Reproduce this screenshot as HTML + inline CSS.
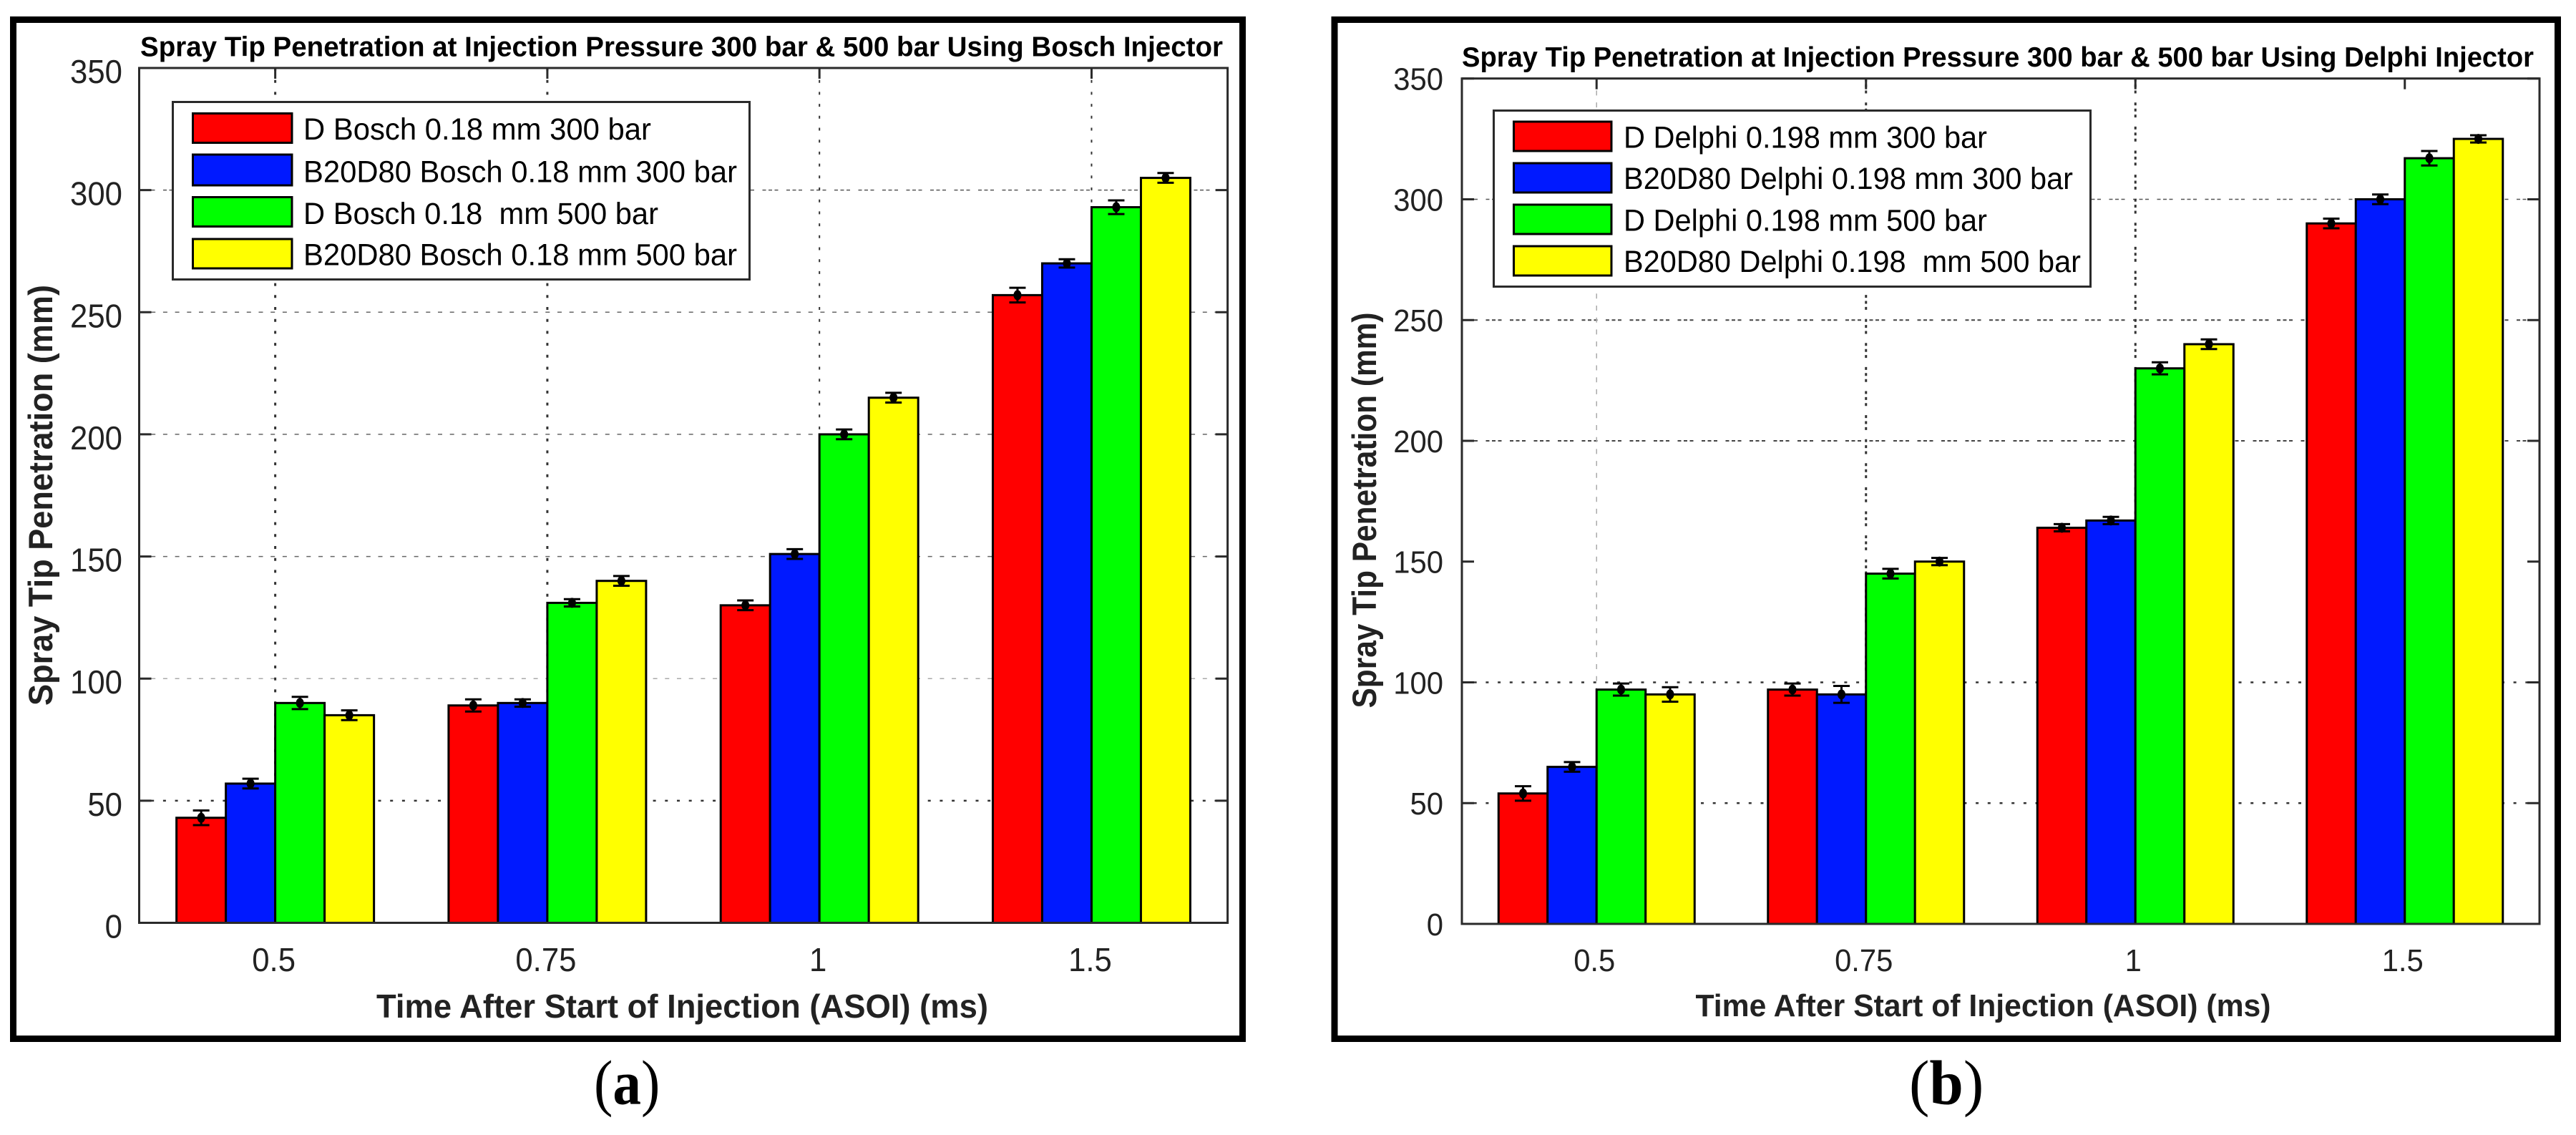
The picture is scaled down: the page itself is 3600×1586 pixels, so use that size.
<!DOCTYPE html>
<html lang="en">
<head>
<meta charset="utf-8">
<title>Spray Tip Penetration</title>
<style>
html,body{margin:0;padding:0;background:#fff;}
svg{display:block;font-family:"Liberation Sans",sans-serif;}
text{white-space:pre;}
.frame{fill:#fff;stroke:#000;stroke-width:9;}
.title{font-weight:bold;font-size:39px;fill:#000;}
.axis-title{font-weight:bold;fill:#222;}
.tick-label{fill:#222;}
.legend-box{fill:#fff;stroke:#2a2a2a;stroke-width:3;}
.legend-text{fill:#000;font-size:42.5px;}
.swatch,.bar{stroke:#000;stroke-width:3;}
.s0{fill:#ff0000;}.s1{fill:#0019ff;}.s2{fill:#00ff00;}.s3{fill:#ffff00;}
.axes-box{fill:none;stroke:#2a2a2a;stroke-width:3;}
.tick{stroke:#2a2a2a;stroke-width:3;}
.err{stroke:#000;stroke-width:3;fill:none;}
.gd{stroke:#333;stroke-width:2.5;stroke-dasharray:4 12.7;}
.gl{stroke:#aaa;stroke-width:1.5;stroke-dasharray:6 10.7;}
.gm{stroke:#666;stroke-width:1.5;stroke-dasharray:6 10.7;}
.gt{stroke:#444;stroke-width:2;stroke-dasharray:5 3.5 5 3.5 5 11.5;}
.gtl{stroke:#555;stroke-width:1.5;stroke-dasharray:5 3.5 5 3.5 5 11.5;}
.vd{stroke:#333;stroke-width:3;stroke-dasharray:4 12.7;}
.vn{stroke:#333;stroke-width:2;stroke-dasharray:4 12.7;}
.vl{stroke:#aaa;stroke-width:1.5;stroke-dasharray:7 9.7;}
.vt{stroke:#333;stroke-width:3;stroke-dasharray:4 4.4 4 4.4 4 12.8;}
.caption{font-family:"Liberation Serif",serif;font-size:88px;fill:#000;}
</style>
</head>
<body>
<svg id="figure" xmlns="http://www.w3.org/2000/svg" width="3600" height="1586" viewBox="0 0 3600 1586">
  <rect x="0" y="0" width="3600" height="1586" fill="#fff"/>

  <g id="panel-a">
    <rect class="frame" x="18.5" y="27.5" width="1718" height="1424"/>
    <g id="plot-a"></g>
    <text class="title" x="196" y="78.5" textLength="1513" lengthAdjust="spacingAndGlyphs">Spray Tip Penetration at Injection Pressure 300 bar &amp; 500 bar Using Bosch Injector</text>
    <text class="axis-title" x="526" y="1422" font-size="46" textLength="855" lengthAdjust="spacingAndGlyphs">Time After Start of Injection (ASOI) (ms)</text>
    <text class="axis-title" transform="translate(73,986) rotate(-90)" font-size="47" textLength="588" lengthAdjust="spacingAndGlyphs">Spray Tip Penetration (mm)</text>
    <g>
      <rect class="legend-box" x="241.5" y="142.5" width="806" height="248"/>
      <rect class="swatch s0" x="269.5" y="158.5" width="138.5" height="41"/>
      <text class="legend-text" x="424" y="195" textLength="486" lengthAdjust="spacingAndGlyphs">D Bosch 0.18 mm 300 bar</text>
      <rect class="swatch s1" x="269.5" y="216" width="138.5" height="43"/>
      <text class="legend-text" x="424" y="254.5" textLength="606" lengthAdjust="spacingAndGlyphs">B20D80 Bosch 0.18 mm 300 bar</text>
      <rect class="swatch s2" x="269.5" y="275.5" width="138.5" height="41"/>
      <text class="legend-text" x="424" y="313" textLength="496" lengthAdjust="spacingAndGlyphs">D Bosch 0.18  mm 500 bar</text>
      <rect class="swatch s3" x="269.5" y="334" width="138.5" height="41"/>
      <text class="legend-text" x="424" y="370.5" textLength="606" lengthAdjust="spacingAndGlyphs">B20D80 Bosch 0.18 mm 500 bar</text>
    </g>
  </g>

  <g id="panel-b">
    <rect class="frame" x="1865" y="27.5" width="1709.5" height="1424"/>
    <g id="plot-b"></g>
    <text class="title" x="2043" y="93" textLength="1498" lengthAdjust="spacingAndGlyphs">Spray Tip Penetration at Injection Pressure 300 bar &amp; 500 bar Using Delphi Injector</text>
    <text class="axis-title" x="2369.5" y="1420" font-size="43.5" textLength="804" lengthAdjust="spacingAndGlyphs">Time After Start of Injection (ASOI) (ms)</text>
    <text class="axis-title" transform="translate(1923,989.5) rotate(-90)" font-size="47" textLength="553" lengthAdjust="spacingAndGlyphs">Spray Tip Penetration (mm)</text>
    <g>
      <rect class="legend-box" x="2087.5" y="154.5" width="834" height="246"/>
      <rect class="swatch s0" x="2115.5" y="170" width="136.5" height="41"/>
      <text class="legend-text" x="2269" y="206.7" textLength="508" lengthAdjust="spacingAndGlyphs">D Delphi 0.198 mm 300 bar</text>
      <rect class="swatch s1" x="2115.5" y="228" width="136.5" height="41"/>
      <text class="legend-text" x="2269" y="264" textLength="628" lengthAdjust="spacingAndGlyphs">B20D80 Delphi 0.198 mm 300 bar</text>
      <rect class="swatch s2" x="2115.5" y="286" width="136.5" height="41"/>
      <text class="legend-text" x="2269" y="322.6" textLength="508" lengthAdjust="spacingAndGlyphs">D Delphi 0.198 mm 500 bar</text>
      <rect class="swatch s3" x="2115.5" y="344" width="136.5" height="41"/>
      <text class="legend-text" x="2269" y="380" textLength="639" lengthAdjust="spacingAndGlyphs">B20D80 Delphi 0.198  mm 500 bar</text>
    </g>
  </g>

  <text class="caption" transform="translate(830,1542.6) scale(0.9,1)">(<tspan font-weight="bold">a</tspan>)</text>
  <text class="caption" transform="translate(2668,1542.6) scale(0.97,1)">(<tspan font-weight="bold">b</tspan>)</text>
</svg>

<script>
const categories = ['0.5', '0.75', '1', '1.5'];
const yTickValues = [0, 50, 100, 150, 200, 250, 300, 350];

const boschD300 = [43, 89, 130, 257];
const boschBlend300 = [57, 90, 151, 270];
const boschD500 = [90, 131, 200, 293];
const boschBlend500 = [85, 140, 215, 305];
const boschD300Err = [3, 2.5, 2, 3];
const boschBlend300Err = [2, 1.5, 2, 1.7];
const boschD500Err = [2.5, 1.5, 2, 2.8];
const boschBlend500Err = [2, 2, 2, 2];

const delphiD300 = [54, 97, 164, 290];
const delphiBlend300 = [65, 95, 167, 300];
const delphiD500 = [97, 145, 230, 317];
const delphiBlend500 = [95, 150, 240, 325];
const delphiD300Err = [3, 2.5, 1.5, 2];
const delphiBlend300Err = [2, 3.5, 1.5, 2];
const delphiD500Err = [2.5, 2, 2.5, 3];
const delphiBlend500Err = [3, 1.5, 2, 1.5];

const NS = 'http://www.w3.org/2000/svg';
function mk(parent, tag, attrs) {
  const el = document.createElementNS(NS, tag);
  for (const k in attrs) el.setAttribute(k, attrs[k]);
  parent.appendChild(el);
  return el;
}

function squash(label, factor) {
  const natural = label.getComputedTextLength();
  label.setAttribute('textLength', natural * factor);
  label.setAttribute('lengthAdjust', 'spacingAndGlyphs');
}

function drawChart(cfg) {
  const g = document.getElementById(cfg.id);
  const xScale = i => cfg.left + (i + 0.5) * (cfg.right - cfg.left) / categories.length;
  const yScale = v => cfg.bottom - v * (cfg.bottom - cfg.top) / 350;

  yTickValues.forEach(function (v, i) {
    const cls = cfg.hGrid[i];
    if (cls) {
      const gridLine = mk(g, 'line', {class: cls, x1: cfg.left, x2: cfg.right, y1: yScale(v), y2: yScale(v)});
      
      
    }
    const tickL = mk(g, 'line', {class: 'tick', x1: cfg.left, x2: cfg.left + 17, y1: yScale(v), y2: yScale(v)});
    
    
    const tickR = mk(g, 'line', {class: 'tick', x1: cfg.right - 17, x2: cfg.right, y1: yScale(v), y2: yScale(v)});
    
    
    const label = mk(g, 'text', {class: 'tick-label', x: cfg.yLabelX, y: yScale(v) + cfg.yLabelDy, 'text-anchor': 'end', 'font-size': cfg.tickFont});
    
    
    label.textContent = String(v);
    squash(label, cfg.tickSquash);
  });

  categories.forEach(function (c, i) {
    const x = xScale(i);
    const cls = cfg.vGrid[i];
    if (cls) {
      const gridLine = mk(g, 'line', {class: cls, x1: x, x2: x, y1: cfg.top, y2: cfg.bottom});
      
      
    }
    const tickT = mk(g, 'line', {class: 'tick', x1: x, x2: x, y1: cfg.top, y2: cfg.top + 15});
    
    
    const label = mk(g, 'text', {class: 'tick-label', x: x + cfg.xLabelDx, y: 1357, 'text-anchor': 'middle', 'font-size': cfg.tickFont});
    
    
    label.textContent = c;
    squash(label, cfg.tickSquash);
  });

  cfg.series.forEach(function (vals, s) {
    vals.forEach(function (v, i) {
      const x = xScale(i) + (s - 2) * cfg.barW;
      const y = yScale(v);
      const bar = mk(g, 'rect', {class: 'bar s' + s, x: x, y: y, width: cfg.barW, height: cfg.bottom - y});
      
      
    });
  });

  cfg.series.forEach(function (vals, s) {
    vals.forEach(function (v, i) {
      const cx = xScale(i) + (s - 1.5) * cfg.barW;
      const hi = yScale(v + cfg.errors[s][i]);
      const lo = yScale(v - cfg.errors[s][i]);
      const eg = mk(g, 'g', {});
      
      
      const stem = mk(eg, 'line', {class: 'err', x1: cx, x2: cx, y1: hi, y2: lo});
      
      
      const capTop = mk(eg, 'line', {class: 'err', x1: cx - 11.5, x2: cx + 11.5, y1: hi, y2: hi});
      
      
      const capBottom = mk(eg, 'line', {class: 'err', x1: cx - 11.5, x2: cx + 11.5, y1: lo, y2: lo});
      
      
      const dot = mk(eg, 'ellipse', {cx: cx, cy: yScale(v), rx: 5.5, ry: 7, fill: '#000'});
      
      
    });
  });

  const box = mk(g, 'rect', {class: 'axes-box', x: cfg.left, y: cfg.top, width: cfg.right - cfg.left, height: cfg.bottom - cfg.top});
  
  
}

drawChart({
  id: 'plot-a', left: 194.5, right: 1715.6, top: 95, bottom: 1289.5, barW: 69,
  tickFont: 46.5, tickSquash: 0.94, yLabelX: 171, yLabelDy: 21, xLabelDx: -2,
  hGrid: ['gd', 'gd', 'gl', 'gm', 'gm', 'gm', 'gtl', 'gd'],
  vGrid: ['vd', 'vd', 'vn', 'vn'],
  series: [boschD300, boschBlend300, boschD500, boschBlend500],
  errors: [boschD300Err, boschBlend300Err, boschD500Err, boschBlend500Err]
});
drawChart({
  id: 'plot-b', left: 2043, right: 3549, top: 109.7, bottom: 1291, barW: 68.5,
  tickFont: 44, tickSquash: 0.95, yLabelX: 2017, yLabelDy: 16, xLabelDx: -3,
  hGrid: ['gd', 'gd', 'gd', null, 'gt', 'gt', 'gtl', 'gl'],
  vGrid: ['vl', 'vt', 'vt', null],
  series: [delphiD300, delphiBlend300, delphiD500, delphiBlend500],
  errors: [delphiD300Err, delphiBlend300Err, delphiD500Err, delphiBlend500Err]
});
</script>
</body>
</html>
